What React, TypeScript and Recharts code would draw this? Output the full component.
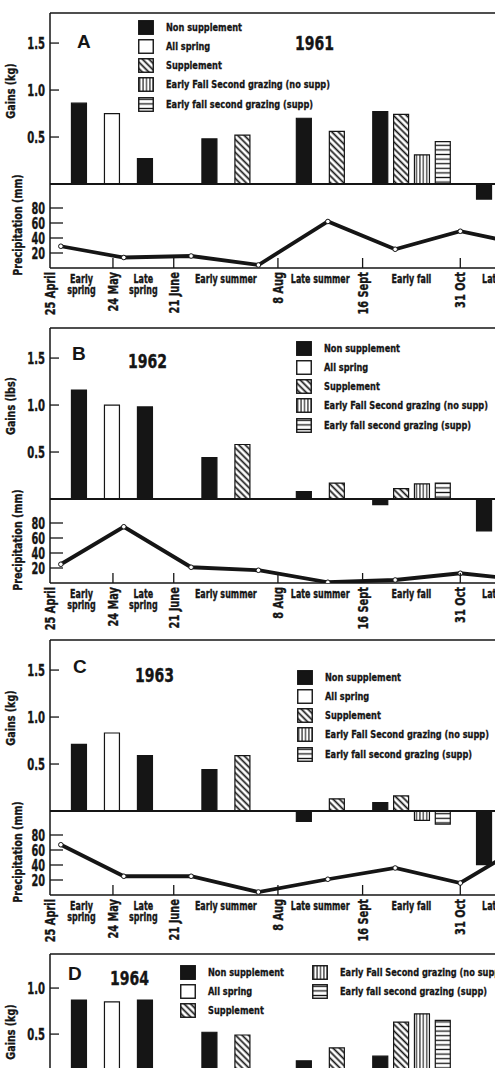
import React from "react";
import {
  ComposedChart,
  Bar,
  Cell,
  Line,
  XAxis,
  YAxis,
  ReferenceLine,
  Legend,
} from "recharts";

const INK = "#151515";
const COND = "'DejaVu Sans Condensed', 'DejaVu Sans', sans-serif";

// x axis: days after 25 April
const dateTicks = [0, 29, 57, 105, 144, 189, 226];
const dateLabels = ["25 April", "24 May", "21 June", "8 Aug", "16 Sept", "31 Oct", "7 Dec"];

const seasonFrom = [0, 29, 57, 105, 144, 189];
const seasonTo = [29, 57, 105, 144, 189, 226];
const seasonNames = [["Early", "spring"], ["Late", "spring"], ["Early summer"], ["Late summer"], ["Early fall"], ["Late fall"]];

// grazing periods that hold the bars
const groupNames = ["spring", "earlySummer", "lateSummer", "earlyFall", "lateFall"];
const groupFrom = [0, 57, 105, 144, 189];
const groupTo = [57, 105, 144, 189, 226];
const groupSlots = [3, 2, 2, 4, 2];

const treatmentKeys = ["non", "all", "supp", "fall2", "fall2s"];
const treatmentNames = [
  "Non supplement",
  "All spring",
  "Supplement",
  "Early Fall Second grazing (no supp)",
  "Early fall second grazing (supp)",
];

type Gain = [string, string, number];

const gains1961: Gain[] = [
  ["spring", "non", 0.86], ["spring", "all", 0.75], ["spring", "non", 0.27],
  ["earlySummer", "non", 0.48], ["earlySummer", "supp", 0.52],
  ["lateSummer", "non", 0.7], ["lateSummer", "supp", 0.56],
  ["earlyFall", "non", 0.77], ["earlyFall", "supp", 0.74], ["earlyFall", "fall2", 0.31], ["earlyFall", "fall2s", 0.45],
  ["lateFall", "non", -0.16],
];
const gains1962: Gain[] = [
  ["spring", "non", 1.16], ["spring", "all", 1.0], ["spring", "non", 0.98],
  ["earlySummer", "non", 0.44], ["earlySummer", "supp", 0.58],
  ["lateSummer", "non", 0.08], ["lateSummer", "supp", 0.17],
  ["earlyFall", "non", -0.06], ["earlyFall", "supp", 0.11], ["earlyFall", "fall2", 0.16], ["earlyFall", "fall2s", 0.17],
  ["lateFall", "non", -0.34],
];
const gains1963: Gain[] = [
  ["spring", "non", 0.71], ["spring", "all", 0.83], ["spring", "non", 0.59],
  ["earlySummer", "non", 0.44], ["earlySummer", "supp", 0.59],
  ["lateSummer", "non", -0.11], ["lateSummer", "supp", 0.13],
  ["earlyFall", "non", 0.09], ["earlyFall", "supp", 0.16], ["earlyFall", "fall2", -0.1], ["earlyFall", "fall2s", -0.14],
  ["lateFall", "non", -0.57],
];
const gains1964: Gain[] = [
  ["spring", "non", 0.87], ["spring", "all", 0.85], ["spring", "non", 0.87],
  ["earlySummer", "non", 0.52], ["earlySummer", "supp", 0.49],
  ["lateSummer", "non", 0.21], ["lateSummer", "supp", 0.35],
  ["earlyFall", "non", 0.26], ["earlyFall", "supp", 0.63], ["earlyFall", "fall2", 0.72], ["earlyFall", "fall2s", 0.65],
];

// monthly precipitation (mm), plotted near month end
const precipMonths = ["Apr", "May", "Jun", "Jul", "Aug", "Sep", "Oct", "Nov"];
const precipDays = [5, 34, 65, 96, 128, 159, 189, 219];
const precip1961 = [29, 14, 16, 4, 62, 25, 49, 31];
const precip1962 = [25, 75, 21, 17, 1, 4, 13, 4];
const precip1963 = [67, 25, 25, 4, 21, 36, 16, 68];

const fills: Record<string, string> = {
  non: INK,
  all: "#fff",
  supp: "url(#pat-diag)",
  fall2: "url(#pat-vert)",
  fall2s: "url(#pat-horz)",
};

const CHART_W = 571;
const CHART_H = 318;
const X_DOMAIN: [number, number] = [0, 240];
const PITCH: Record<number, number> = { 2: 15.2, 3: 15.2, 4: 9.6 };
const seasonMids = seasonFrom.map((f, i) => (f + seasonTo[i]) / 2);
const bottomTicks = [...dateTicks, ...seasonMids];

const gainRows = (list: Gain[]) => {
  const used: Record<string, number> = {};
  return list.map(([group, kind, value]) => {
    const gi = groupNames.indexOf(group);
    const slot = used[group] ?? 0;
    used[group] = slot + 1;
    const n = groupSlots[gi];
    const mid = (groupFrom[gi] + groupTo[gi]) / 2;
    return { x: mid + (slot - (n - 1) / 2) * PITCH[n], value, kind };
  });
};

const precipRows = (values: number[]) =>
  values.map((mm, i) => ({ x: precipDays[i], month: precipMonths[i], mm }));

// bold condensed text, slightly stroked to look like the heavy print lettering
const CondText = ({ x, y, size, sx = 0.8, rotate = 0, anchor = "middle", dy, children }: any) => (
  <text
    transform={`translate(${x},${y}) rotate(${rotate}) scale(${sx},1)`}
    textAnchor={anchor}
    dy={dy}
    fontFamily={COND}
    fontWeight="bold"
    fontSize={size}
    fill={INK}
    stroke={INK}
    strokeWidth={0.35}
  >
    {children}
  </text>
);

const GainTick = (props: any) => (
  <CondText x={props.x} y={props.y} size={16} sx={0.7} anchor="end" dy="0.36em">
    {Number(props.payload.value).toFixed(1)}
  </CondText>
);

const PrecipTick = (props: any) => (
  <CondText x={props.x} y={props.y} size={16} sx={0.68} anchor="end" dy="0.36em">
    {props.payload.value}
  </CondText>
);

const BottomTick = ({ x, y, payload }: any) => {
  const di = dateTicks.indexOf(payload.value);
  if (di >= 0) {
    return (
      <g>
        {di > 0 && <line x1={x} x2={x} y1={y} y2={y - 10} stroke={INK} strokeWidth={1.3} />}
        <CondText x={x} y={y + 4} size={14} sx={0.78} rotate={-90} anchor="end" dy="0.36em">
          {dateLabels[di]}
        </CondText>
      </g>
    );
  }
  const si = seasonMids.indexOf(payload.value);
  return (
    <g>
      {seasonNames[si].map((t, k) => (
        <CondText key={k} x={x} y={y + 15 + k * 11} size={12} sx={0.74}>
          {t}
        </CondText>
      ))}
    </g>
  );
};

const axisTitle = (text: string, dx: number, dy: number) => (props: any) => {
  const vb = props.viewBox;
  return (
    <CondText x={vb.x + dx} y={vb.y + dy} size={12.5} sx={0.85} rotate={-90} dy="0.36em">
      {text}
    </CondText>
  );
};

const Patterns = () => (
  <svg width={0} height={0} style={{ position: "absolute" }}>
    <defs>
      <pattern id="pat-diag" width={4.6} height={4.6} patternUnits="userSpaceOnUse" patternTransform="rotate(-45)">
        <rect width={4.6} height={4.6} fill="#fff" />
        <line x1={2.3} y1={0} x2={2.3} y2={4.6} stroke={INK} strokeWidth={1.7} />
      </pattern>
      <pattern id="pat-vert" width={3.4} height={4} patternUnits="userSpaceOnUse">
        <rect width={3.4} height={4} fill="#fff" />
        <line x1={1.7} y1={0} x2={1.7} y2={4} stroke={INK} strokeWidth={1.1} />
      </pattern>
      <pattern id="pat-horz" width={4} height={4.6} patternUnits="userSpaceOnUse">
        <rect width={4} height={4.6} fill="#fff" />
        <line x1={0} y1={2.3} x2={4} y2={2.3} stroke={INK} strokeWidth={1.3} />
      </pattern>
    </defs>
  </svg>
);

const LegendBox = ({ cols, colWidth }: { cols: string[][]; colWidth?: number }) => (
  <div style={{ display: "flex" }}>
    {cols.map((col, ci) => (
      <div key={ci} style={{ width: ci < cols.length - 1 ? colWidth : undefined }}>
        {col.map((k) => (
          <div key={k} style={{ display: "flex", alignItems: "center", height: 19.3 }}>
            <svg width={16} height={15} style={{ flex: "none" }}>
              <rect x={0.75} y={0.75} width={14.5} height={13.5} fill={fills[k]} stroke={INK} strokeWidth={1.4} />
            </svg>
            <span
              style={{
                marginLeft: 12,
                fontFamily: COND,
                fontWeight: "bold",
                fontSize: 11,
                lineHeight: 1,
                color: INK,
                whiteSpace: "nowrap",
                display: "inline-block",
                transform: "scaleX(0.83)",
                transformOrigin: "left center",
                WebkitTextStroke: "0.3px " + INK,
              }}
            >
              {treatmentNames[treatmentKeys.indexOf(k)]}
            </span>
          </div>
        ))}
      </div>
    ))}
  </div>
);

interface PanelProps {
  letter: string;
  year: string;
  top: number;
  gains: Gain[];
  precip?: number[];
  gainLabel: string;
  gainDomain: [number, number];
  gainTicks: number[];
  legendX: number;
  legendY: number;
  legendCols: string[][];
  legendColW?: number;
  letterAt: [number, number];
  yearAt: [number, number];
}

const Panel = (p: PanelProps) => {
  const rows = gainRows(p.gains);
  return (
    <div style={{ position: "absolute", left: 0, top: p.top - 8, width: CHART_W, height: CHART_H }}>
      <div style={{ position: "absolute", left: 0, top: 0 }}>
        <ComposedChart width={CHART_W} height={CHART_H} data={rows} margin={{ top: 0, right: 0, bottom: 55, left: 0 }}>
          <XAxis
            dataKey="x"
            type="number"
            orientation="top"
            domain={X_DOMAIN}
            ticks={dateTicks}
            interval={0}
            height={8}
            tick={false}
            tickSize={-8}
            axisLine={{ stroke: INK, strokeWidth: 1.5 }}
            tickLine={{ stroke: INK, strokeWidth: 1.3 }}
            allowDataOverflow
          />
          <YAxis
            type="number"
            domain={p.gainDomain}
            ticks={p.gainTicks}
            interval={0}
            width={50}
            axisLine={{ stroke: INK, strokeWidth: 1.5 }}
            tickLine={{ stroke: INK, strokeWidth: 1.3 }}
            tickSize={-9}
            tickMargin={14}
            tick={GainTick}
            label={axisTitle(p.gainLabel, 10, 78)}
            allowDataOverflow
          />
          <Legend
            layout="vertical"
            align="center"
            verticalAlign="middle"
            wrapperStyle={{ left: p.legendX, top: p.legendY, width: "auto" }}
            content={() => <LegendBox cols={p.legendCols} colWidth={p.legendColW} />}
          />
          <Bar dataKey="value" barSize={15} isAnimationActive={false}>
            {rows.map((r, i) => (
              <Cell key={i} fill={fills[r.kind]} stroke={INK} strokeWidth={1.2} />
            ))}
          </Bar>
          <ReferenceLine y={0} stroke={INK} strokeWidth={2} />
        </ComposedChart>
      </div>
      {p.precip && (
        <div style={{ position: "absolute", left: 0, top: 0, pointerEvents: "none" }}>
          <ComposedChart
            width={CHART_W}
            height={CHART_H}
            data={precipRows(p.precip)}
            margin={{ top: 8, right: 0, bottom: 0, left: 0 }}
          >
            <XAxis
              dataKey="x"
              type="number"
              domain={X_DOMAIN}
              ticks={bottomTicks}
              interval={0}
              height={55}
              tickSize={0}
              tickMargin={0}
              tickLine={false}
              axisLine={{ stroke: INK, strokeWidth: 1.5 }}
              tick={BottomTick}
              allowDataOverflow
            />
            <YAxis
              type="number"
              domain={[0, 340]}
              ticks={[20, 40, 60, 80]}
              interval={0}
              width={50}
              axisLine={false}
              tickLine={{ stroke: INK, strokeWidth: 1.3 }}
              tickSize={-13}
              tickMargin={18}
              tick={PrecipTick}
              label={axisTitle("Precipitation (mm)", 17.5, 212)}
              allowDataOverflow
            />
            <Line
              dataKey="mm"
              type="linear"
              stroke={INK}
              strokeWidth={3.8}
              dot={{ r: 2.3, fill: "#fff", stroke: INK, strokeWidth: 1 }}
              isAnimationActive={false}
            />
          </ComposedChart>
        </div>
      )}
      <svg width={CHART_W} height={CHART_H} style={{ position: "absolute", left: 0, top: 0, pointerEvents: "none" }}>
        <text
          x={p.letterAt[0]}
          y={p.letterAt[1]}
          fontFamily="'Liberation Sans', Arial, sans-serif"
          fontWeight="bold"
          fontSize={19}
          fill={INK}
        >
          {p.letter}
        </text>
        <CondText x={p.yearAt[0]} y={p.yearAt[1]} size={20} sx={0.78} anchor="start">
          {p.year}
        </CondText>
      </svg>
    </div>
  );
};

const KG_DOMAIN: [number, number] = [-0.894, 1.82];

export default function App() {
  return (
    <div
      style={{
        position: "absolute",
        left: 0,
        top: 0,
        width: 495,
        height: 1068,
        overflow: "hidden",
        background: "#fff",
        fontFamily: COND,
      }}
    >
      <Patterns />
      <Panel
        letter="A"
        year="1961"
        top={13}
        gains={gains1961}
        precip={precip1961}
        gainLabel="Gains (kg)"
        gainDomain={KG_DOMAIN}
        gainTicks={[0.5, 1, 1.5]}
        legendX={138}
        legendY={12.4}
        legendCols={[treatmentKeys]}
        letterAt={[77, 43]}
        yearAt={[295, 45]}
      />
      <Panel
        letter="B"
        year="1962"
        top={328}
        gains={gains1962}
        precip={precip1962}
        gainLabel="Gains (lbs)"
        gainDomain={KG_DOMAIN}
        gainTicks={[0.5, 1, 1.5]}
        legendX={296}
        legendY={18.4}
        legendCols={[treatmentKeys]}
        letterAt={[72, 40]}
        yearAt={[128, 48]}
      />
      <Panel
        letter="C"
        year="1963"
        top={640}
        gains={gains1963}
        precip={precip1963}
        gainLabel="Gains (kg)"
        gainDomain={KG_DOMAIN}
        gainTicks={[0.5, 1, 1.5]}
        legendX={297}
        legendY={35.4}
        legendCols={[treatmentKeys]}
        letterAt={[73, 41]}
        yearAt={[135, 50]}
      />
      <Panel
        letter="D"
        year="1964"
        top={954}
        gains={gains1964}
        gainLabel="Gains (kg)"
        gainDomain={[-1.4, 1.37]}
        gainTicks={[0.5, 1]}
        legendX={180}
        legendY={16.4}
        legendCols={[["non", "all", "supp"], ["fall2", "fall2s"]]}
        legendColW={132}
        letterAt={[68, 34]}
        yearAt={[110, 39]}
      />
    </div>
  );
}
